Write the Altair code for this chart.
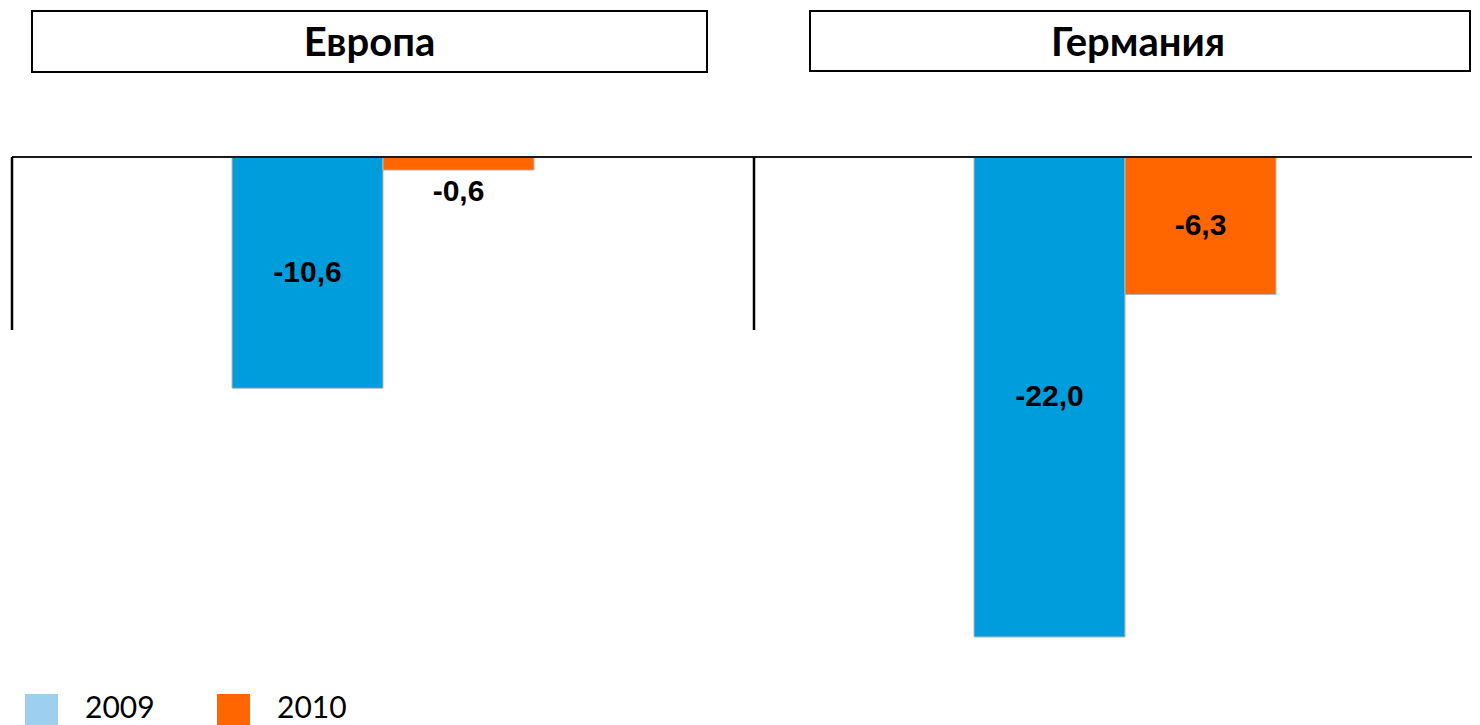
import altair as alt
import pandas as pd

# ---- data ----
regions = ["Европа", "Германия"]
years = ["2009", "2010"]
values_2009 = [-10.6, -22.0]
values_2010 = [-0.6, -6.3]
bar_colors = ["#009DDC", "#FF6600"]
legend_colors = ["#9DD0EE", "#FF6600"]
divider_depth = [-7.93, -7.93]

rows = []
for i, r in enumerate(regions):
    for yr, vals in zip(years, [values_2009, values_2010]):
        v = vals[i]
        rows.append({
            "region": r, "year": yr, "value": v,
            "label": f"{v:.1f}".replace(".", ","),
            "label_pos": v / 2 if v < -2 else v - 1.0,
        })
df = pd.DataFrame(rows)

W, H = 1464, 717
PX = 480 / 22.0
BASE = 149

y_scale = alt.Scale(domain=[-(H - BASE) / PX, BASE / PX], nice=False, zero=False)
x_scale = alt.Scale(domain=regions, range=[4, 1488], paddingInner=0, paddingOuter=0)
xoff_scale = alt.Scale(domain=years, range=[220, 522], paddingInner=0, paddingOuter=0)

X = alt.X("region:N", scale=x_scale, axis=None, sort=regions)
XO = alt.XOffset("year:N", scale=xoff_scale, sort=years)

bars = alt.Chart(df).mark_bar(stroke="#b8b8b8", strokeWidth=1).encode(
    x=X,
    xOffset=XO,
    y=alt.Y("value:Q", scale=y_scale, axis=None),
    color=alt.Color("year:N", scale=alt.Scale(domain=years, range=bar_colors), legend=None),
)

labels = alt.Chart(df).mark_text(
    font="Liberation Sans", fontWeight="bold", fontSize=30, color="#000000",
    baseline="middle", align="center"
).encode(
    x=X,
    xOffset=XO,
    y=alt.Y("label_pos:Q", scale=y_scale, axis=None),
    text="label:N",
)

base_rule = alt.Chart(pd.DataFrame({"v": [0]})).mark_rule(color="#1a1a1a", strokeWidth=2).encode(
    y=alt.Y("v:Q", scale=y_scale, axis=None),
    x=alt.value(4),
    x2=alt.value(W),
)

div_df = pd.DataFrame({"region": regions, "top": [0, 0], "bottom": divider_depth})
dividers = alt.Chart(div_df).mark_rule(color="#000000", strokeWidth=2.5).encode(
    x=alt.X("region:N", scale=x_scale, axis=None, sort=regions, bandPosition=0),
    y=alt.Y("top:Q", scale=y_scale, axis=None),
    y2="bottom:Q",
)

# header boxes
hdr = []
boxes = [(24, 699, 3, 64), (802, 1462, 3, 63)]
for name, (x1, x2, y1, y2) in zip(regions, boxes):
    hdr.append(
        alt.Chart(pd.DataFrame({"n": [name]})).mark_rect(
            fill="white", stroke="#000000", strokeWidth=2
        ).encode(x=alt.value(x1), x2=alt.value(x2), y=alt.value(y1), y2=alt.value(y2))
    )
hdr_text_x = [361.5, 1130]
for name, tx in zip(regions, hdr_text_x):
    hdr.append(
        alt.Chart(pd.DataFrame({"n": [name]})).mark_text(
            font="Lato", fontWeight="bold", fontSize=40, color="#000000",
            align="center", baseline="alphabetic"
        ).encode(x=alt.value(tx), y=alt.value(48), text="n:N")
    )

# legend
leg = []
leg_sq_x = [33.5, 225.5]
leg_tx_x = [77, 269]
for yr, col, sx, tx in zip(years, legend_colors, leg_sq_x, leg_tx_x):
    leg.append(
        alt.Chart(pd.DataFrame({"n": [yr]})).mark_square(
            size=1089, filled=True, color=col, opacity=1
        ).encode(x=alt.value(sx), y=alt.value(702.5))
    )
    leg.append(
        alt.Chart(pd.DataFrame({"n": [yr]})).mark_text(
            font="Lato", fontSize=30, color="#000000", align="left", baseline="alphabetic"
        ).encode(x=alt.value(tx), y=alt.value(710), text="n:N")
    )

chart = alt.layer(bars, base_rule, dividers, labels, *hdr, *leg).properties(
    width=W, height=H, padding=0,
    autosize=alt.AutoSizeParams(type="none"),
    background="white",
).configure_view(stroke=None)

chart.save("out.html", embed_options={"renderer": "svg", "actions": False})
